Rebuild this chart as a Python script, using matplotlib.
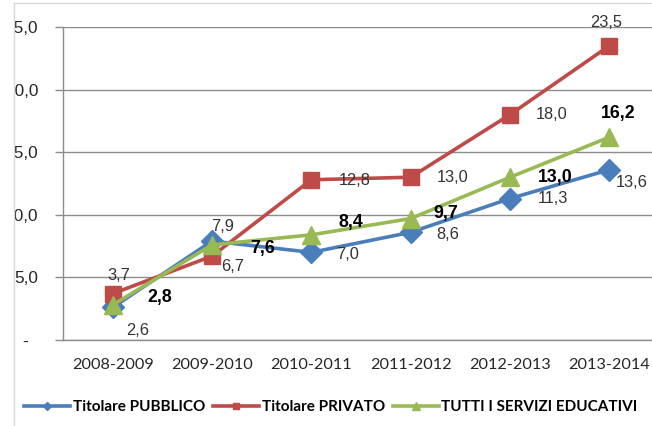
import matplotlib
matplotlib.use("Agg")
import matplotlib.pyplot as plt
from matplotlib.lines import Line2D
from matplotlib.patches import Rectangle

# data
years = ["2008-2009", "2009-2010", "2010-2011", "2011-2012", "2012-2013", "2013-2014"]
pubblico = [2.6, 7.9, 7.0, 8.6, 11.3, 13.6]
privato = [3.7, 6.7, 12.8, 13.0, 18.0, 23.5]
tutti = [2.8, 7.6, 8.4, 9.7, 13.0, 16.2]
y_ticks = [0, 5, 10, 15, 20, 25]
y_tick_labels = ["-  ", "5,0", "10,0", "15,0", "20,0", "25,0"]

BLUE = "#4A7EBB"
RED = "#BE4B48"
GREEN = "#98B954"
GRID = "#8C8C8C"

W, H = 652, 426
fig = plt.figure(figsize=(W / 100, H / 100), dpi=100)
fig.patch.set_facecolor("white")

# axes reaches past the right edge, like the cropped original
x0, x1, ytop, ybot = 63, 659, 27, 340
ax = fig.add_axes([x0 / W, 1 - ybot / H, (x1 - x0) / W, (ybot - ytop) / H])

x = list(range(len(years)))
ax.plot(x, pubblico, color=BLUE, lw=2.6, marker="D", ms=11, zorder=3, clip_on=False)
ax.plot(x, privato, color=RED, lw=2.6, marker="s", ms=12, zorder=3, clip_on=False)
ax.plot(x, tutti, color=GREEN, lw=2.6, marker="^", ms=13, zorder=4, clip_on=False)

ax.set_xlim(-0.5, len(years) - 0.5)
ax.set_ylim(0, 25)
ax.set_yticks(y_ticks)
ax.set_yticklabels(y_tick_labels, fontfamily="Liberation Sans", fontsize=12.4, color="#262626")
ax.set_xticks(x)
ax.set_xticklabels(years, fontfamily="Lato", fontsize=11.7, color="#262626")
ax.tick_params(axis="y", length=6, width=1, color=GRID, pad=12)
ax.tick_params(axis="x", length=0, pad=13)
ax.yaxis.grid(True, color=GRID, lw=1)
ax.set_axisbelow(True)
for side in ["top", "right"]:
    ax.spines[side].set_visible(False)
for side in ["left", "bottom"]:
    ax.spines[side].set_color(GRID)
    ax.spines[side].set_linewidth(1)


def fmt(v):
    return f"{v:.1f}".replace(".", ",")


# label offsets in pixels (dx right, dy up)
off_pub = [(25, -23), (11, 15), (36, -2), (37, -2), (43, 0), (22, -13)]
off_pri = [(6, 18), (21, -10), (43, -1), (42, 0), (42, 0), (-3, 23)]
off_tut = [(47, 7), (51, -4), (40, 12), (35, 5), (45, 0), (9, 24)]

for vals, offs, bold in [(pubblico, off_pub, False), (privato, off_pri, False), (tutti, off_tut, True)]:
    for i, (v, (dx, dy)) in enumerate(zip(vals, offs)):
        ax.annotate(fmt(v), (i, v), xytext=(dx, dy), textcoords="offset pixels",
                    ha="center", va="center", fontfamily="Liberation Sans",
                    fontsize=12.8 if bold else 11.8,
                    fontweight="bold" if bold else "normal",
                    color="black" if bold else "#333333", annotation_clip=False, zorder=5)

handles = [
    Line2D([], [], color=BLUE, lw=2.6, marker="D", ms=4.5),
    Line2D([], [], color=RED, lw=2.6, marker="s", ms=5),
    Line2D([], [], color=GREEN, lw=2.6, marker="^", ms=6),
]
labels = ["Titolare PUBBLICO", "Titolare PRIVATO", "TUTTI I SERVIZI EDUCATIVI"]
fig.legend(handles, labels, loc="center", bbox_to_anchor=(331 / W, 1 - 407 / H), ncol=3,
           frameon=False, prop={"family": "Lato", "weight": "bold", "size": 11},
           handlelength=3.0, handletextpad=0.15, columnspacing=0.55, borderpad=0)

# left strip outside the chart border hides the cut-off tick label digits
fig.add_artist(Rectangle((0, 0), 14 / W, 1, transform=fig.transFigure,
                         facecolor="white", edgecolor="none", zorder=10))
fig.add_artist(Line2D([14 / W, 14 / W], [0, 1 - 3 / H], transform=fig.transFigure,
                      color="#D9D9D9", lw=1, zorder=11))
fig.add_artist(Line2D([14 / W, 1], [1 - 3 / H, 1 - 3 / H], transform=fig.transFigure,
                      color="#D9D9D9", lw=1, zorder=11))

fig.savefig("out.png", dpi=100)
